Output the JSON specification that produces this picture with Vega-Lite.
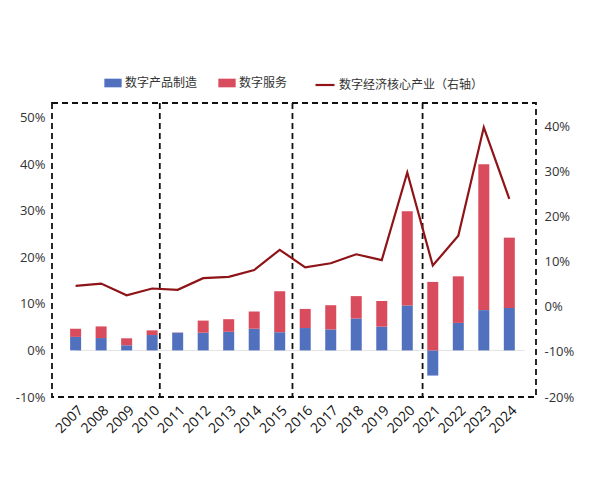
{
  "$schema": "https://vega.github.io/schema/vega-lite/v6.json",
  "width": 484,
  "height": 294,
  "autosize": "none",
  "padding": {"left": 52, "top": 103, "right": 64, "bottom": 83},
  "config": {
    "font": "Noto Sans CJK SC",
    "view": {"stroke": "#111", "strokeWidth": 1.8, "strokeDash": [6, 4]},
    "axis": {
      "grid": false,
      "domain": false,
      "ticks": false,
      "title": null,
      "labelFont": "Open Sans",
      "labelFontSize": 13,
      "labelColor": "#333",
      "labelOverlap": false
    },
    "legend": {
      "orient": "top",
      "direction": "horizontal",
      "title": null,
      "offset": 12,
      "labelFontSize": 12,
      "labelColor": "#333",
      "labelFont": "Noto Sans CJK SC",
      "labelOffset": 3,
      "columnPadding": 20,
      "layout": {"top": {"anchor": "middle", "direction": "horizontal", "margin": 26}}
    }
  },
  "datasets": {
    "bars": [
      {"year": 2007, "series": "数字产品制造", "value": 2.9},
      {"year": 2007, "series": "数字服务", "value": 1.75},
      {"year": 2008, "series": "数字产品制造", "value": 2.65},
      {"year": 2008, "series": "数字服务", "value": 2.5},
      {"year": 2009, "series": "数字产品制造", "value": 1.1},
      {"year": 2009, "series": "数字服务", "value": 1.5},
      {"year": 2010, "series": "数字产品制造", "value": 3.3},
      {"year": 2010, "series": "数字服务", "value": 1.0},
      {"year": 2011, "series": "数字产品制造", "value": 3.8},
      {"year": 2011, "series": "数字服务", "value": 0.05},
      {"year": 2012, "series": "数字产品制造", "value": 3.8},
      {"year": 2012, "series": "数字服务", "value": 2.6},
      {"year": 2013, "series": "数字产品制造", "value": 4.0},
      {"year": 2013, "series": "数字服务", "value": 2.7},
      {"year": 2014, "series": "数字产品制造", "value": 4.65},
      {"year": 2014, "series": "数字服务", "value": 3.7},
      {"year": 2015, "series": "数字产品制造", "value": 3.9},
      {"year": 2015, "series": "数字服务", "value": 8.8},
      {"year": 2016, "series": "数字产品制造", "value": 4.8},
      {"year": 2016, "series": "数字服务", "value": 4.1},
      {"year": 2017, "series": "数字产品制造", "value": 4.5},
      {"year": 2017, "series": "数字服务", "value": 5.2},
      {"year": 2018, "series": "数字产品制造", "value": 6.85},
      {"year": 2018, "series": "数字服务", "value": 4.8},
      {"year": 2019, "series": "数字产品制造", "value": 5.1},
      {"year": 2019, "series": "数字服务", "value": 5.5},
      {"year": 2020, "series": "数字产品制造", "value": 9.65},
      {"year": 2020, "series": "数字服务", "value": 20.2},
      {"year": 2021, "series": "数字产品制造", "value": -5.4},
      {"year": 2021, "series": "数字服务", "value": 14.7},
      {"year": 2022, "series": "数字产品制造", "value": 5.9},
      {"year": 2022, "series": "数字服务", "value": 10.0},
      {"year": 2023, "series": "数字产品制造", "value": 8.65},
      {"year": 2023, "series": "数字服务", "value": 31.3},
      {"year": 2024, "series": "数字产品制造", "value": 9.1},
      {"year": 2024, "series": "数字服务", "value": 15.1}
    ],
    "core": [
      {"year": 2007, "value": 4.7},
      {"year": 2008, "value": 5.2},
      {"year": 2009, "value": 2.6},
      {"year": 2010, "value": 4.1},
      {"year": 2011, "value": 3.8},
      {"year": 2012, "value": 6.4},
      {"year": 2013, "value": 6.7},
      {"year": 2014, "value": 8.2},
      {"year": 2015, "value": 12.7},
      {"year": 2016, "value": 8.8},
      {"year": 2017, "value": 9.7},
      {"year": 2018, "value": 11.7},
      {"year": 2019, "value": 10.4},
      {"year": 2020, "value": 29.85},
      {"year": 2021, "value": 9.2},
      {"year": 2022, "value": 15.8},
      {"year": 2023, "value": 39.9},
      {"year": 2024, "value": 24.0}
    ],
    "periods": [
      {"boundary": 2010.3},
      {"boundary": 2015.5},
      {"boundary": 2020.6}
    ]
  },
  "encoding": {
    "x": {
      "field": "year",
      "type": "quantitative",
      "scale": {"domain": [2006.27, 2024.85], "nice": false, "zero": false},
      "axis": {
        "values": [2007, 2008, 2009, 2010, 2011, 2012, 2013, 2014, 2015, 2016, 2017, 2018, 2019, 2020, 2021, 2022, 2023, 2024],
        "format": "d",
        "labelAngle": -45,
        "labelAlign": "right",
        "labelBaseline": "top",
        "labelPadding": 6,
        "labelFontSize": 14,
        "labelColor": "#111"
      }
    }
  },
  "layer": [
    {
      "layer": [
        {
          "data": {"name": "bars"},
          "mark": {"type": "rule", "color": "#e4e4e4", "strokeWidth": 1},
          "encoding": {
            "x": {"field": "year", "type": "quantitative", "aggregate": "min"},
            "x2": {"datum": 2024.6},
            "y": {"datum": 0}
          }
        },
        {
          "data": {"name": "bars"},
          "mark": {"type": "bar", "width": 11},
          "encoding": {
            "y": {
              "field": "value",
              "type": "quantitative",
              "stack": "zero",
              "scale": {"domain": [-10, 53.1], "nice": false},
              "axis": {
                "orient": "left",
                "values": [-10, 0, 10, 20, 30, 40, 50],
                "labelExpr": "datum.value + '%'",
                "labelPadding": 7
              }
            },
            "color": {
              "field": "series",
              "type": "nominal",
              "scale": {"domain": ["数字产品制造", "数字服务"], "range": ["#5171bf", "#d94c5d"]},
              "legend": {
                "symbolType": "M-1,-0.5L1,-0.5L1,0.5L-1,0.5Z",
                "symbolSize": 300,
                "symbolStrokeWidth": 0
              }
            },
            "order": {"field": "series", "sort": "ascending"}
          }
        },
        {
          "data": {"name": "periods"},
          "mark": {"type": "rule", "color": "#111", "strokeWidth": 1.8, "strokeDash": [6, 4]},
          "encoding": {
            "x": {"field": "boundary", "type": "quantitative"}
          }
        }
      ]
    },
    {
      "data": {"name": "core"},
      "mark": {"type": "line", "strokeWidth": 2.2},
      "encoding": {
        "y": {
          "field": "value",
          "type": "quantitative",
          "scale": {"domain": [-20, 45.3], "nice": false},
          "axis": {
            "orient": "right",
            "values": [-20, -10, 0, 10, 20, 30, 40],
            "labelExpr": "datum.value + '%'",
            "labelPadding": 8
          }
        },
        "stroke": {
          "datum": "数字经济核心产业（右轴）",
          "type": "nominal",
          "scale": {"range": ["#8e1418"]},
          "legend": {"symbolType": "stroke", "symbolSize": 360, "symbolStrokeWidth": 2.2}
        }
      }
    }
  ],
  "resolve": {"scale": {"y": "independent"}}
}
